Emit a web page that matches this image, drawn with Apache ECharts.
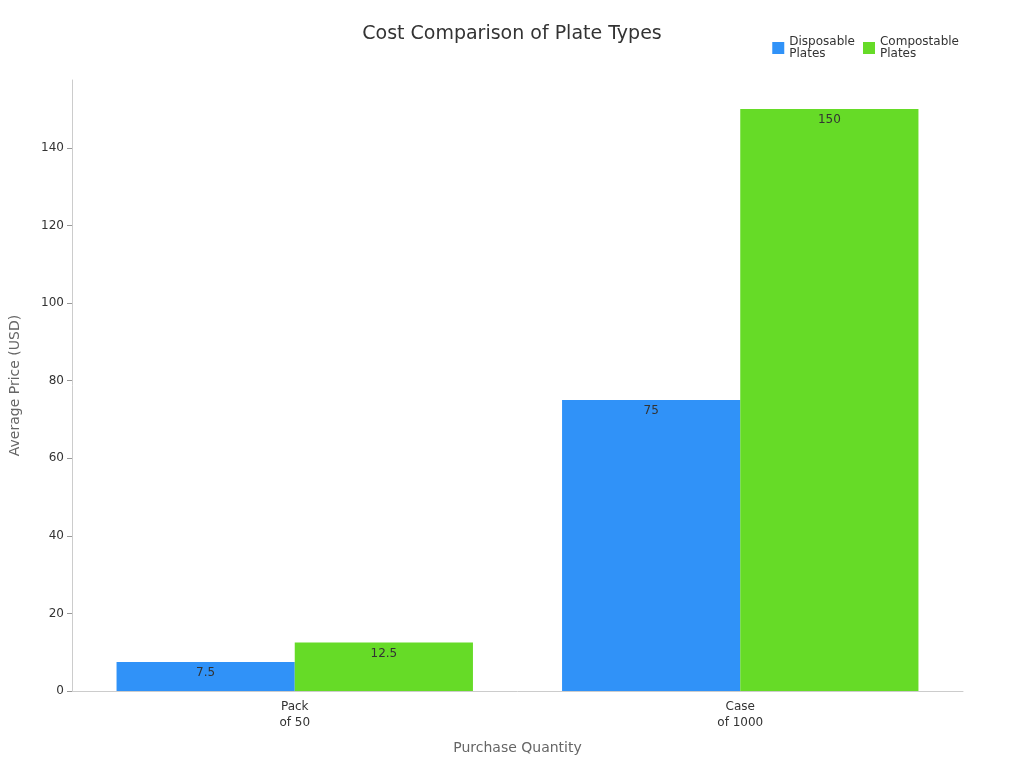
<!DOCTYPE html>
<html><head><meta charset="utf-8">
<script src="https://cdn.jsdelivr.net/npm/echarts@6/dist/echarts.min.js"></script>
<style>html,body{margin:0;padding:0}#c{width:1024px;height:768px}</style>
</head><body><div id="c"></div>
<script>
const categories = ['Pack\nof 50', 'Case\nof 1000'];
const disposable = [7.5, 75];
const compostable = [12.5, 150];
const seriesNames = ['Disposable\nPlates', 'Compostable\nPlates'];
const chart = echarts.init(document.getElementById('c'));
const lbl = {show:true, position:'insideTop', color:'#333', fontSize:12, fontFamily:'DejaVu Sans'};
chart.setOption({
  textStyle:{fontFamily:'DejaVu Sans'},
  title:{text:'Cost Comparison of Plate Types', left:'center', top:20, textStyle:{fontSize:19, fontWeight:'normal', color:'#333'}},
  legend:{top:31, right:60, itemWidth:12, itemHeight:12, icon:'rect', textStyle:{fontSize:12, color:'#333'}, data:seriesNames},
  grid:{left:68, right:61, top:80, bottom:77},
  xAxis:{type:'category', data:categories, name:'Purchase Quantity', nameLocation:'middle', nameGap:50,
    nameTextStyle:{fontSize:14, color:'#666'}, axisLine:{lineStyle:{color:'#ccc'}}, axisTick:{show:false},
    axisLabel:{color:'#333', fontSize:12, lineHeight:16}},
  yAxis:{type:'value', min:0, max:157.5, interval:20, name:'Average Price (USD)', nameLocation:'middle', nameGap:50,
    nameTextStyle:{fontSize:14, color:'#666'}, axisLine:{show:true, lineStyle:{color:'#ccc'}}, axisTick:{show:true, lineStyle:{color:'#999'}},
    splitLine:{show:false}, axisLabel:{color:'#333', fontSize:12, showMaxLabel:false}},
  series:[
    {name:seriesNames[0], type:'bar', data:disposable, itemStyle:{color:'#3092f8'}, barGap:'0%', barCategoryGap:'20%', label:lbl},
    {name:seriesNames[1], type:'bar', data:compostable, itemStyle:{color:'#66db27'}, label:lbl}
  ]
});
</script></body></html>
